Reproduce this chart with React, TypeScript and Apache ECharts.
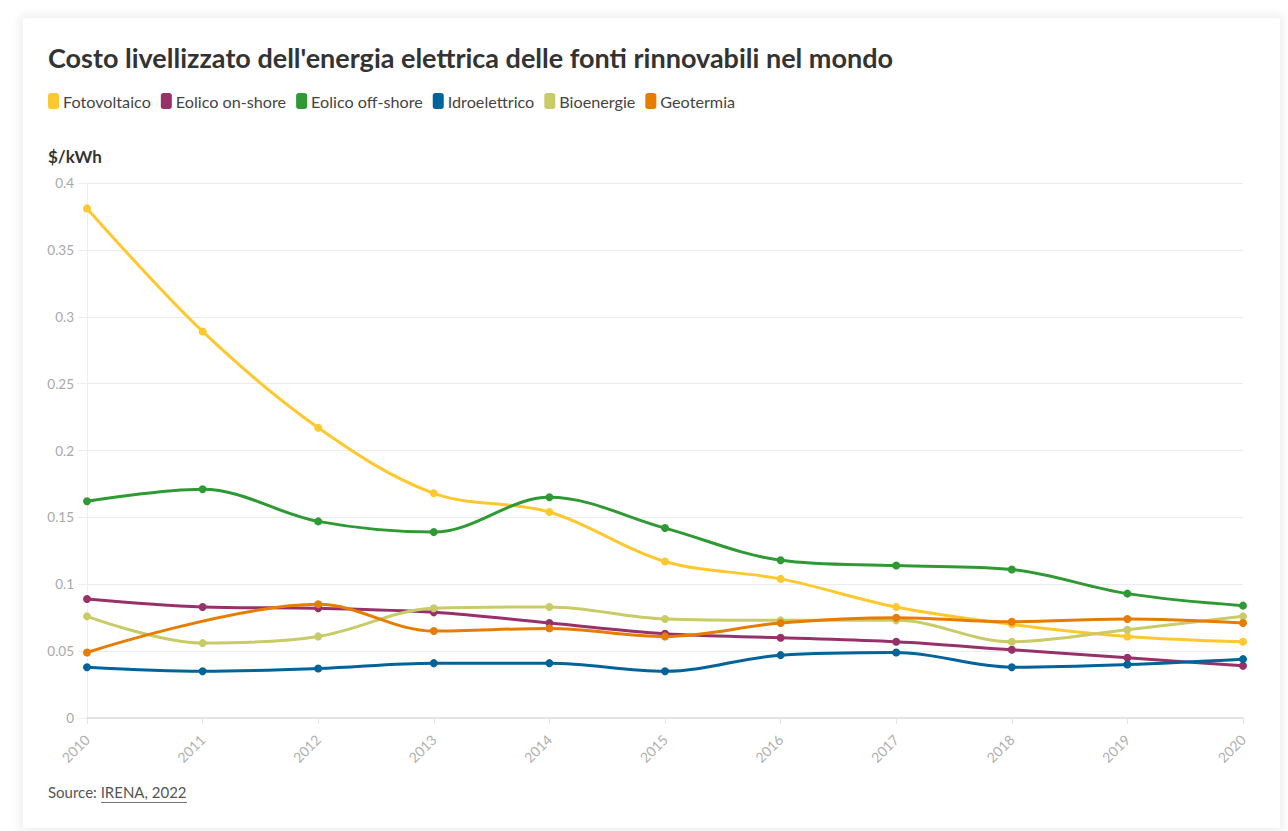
import React, { useEffect, useRef } from "react";
import * as echarts from "echarts";

const years = ["2010", "2011", "2012", "2013", "2014", "2015", "2016", "2017", "2018", "2019", "2020"];
const fotovoltaico = [0.381, 0.289, 0.217, 0.168, 0.154, 0.117, 0.104, 0.083, 0.07, 0.061, 0.057];
const eolicoOnShore = [0.089, 0.083, 0.082, 0.079, 0.071, 0.063, 0.06, 0.057, 0.051, 0.045, 0.039];
const eolicoOffShore = [0.162, 0.171, 0.147, 0.139, 0.165, 0.142, 0.118, 0.114, 0.111, 0.093, 0.084];
const idroelettrico = [0.038, 0.035, 0.037, 0.041, 0.041, 0.035, 0.047, 0.049, 0.038, 0.04, 0.044];
const bioenergie = [0.076, 0.056, 0.061, 0.082, 0.083, 0.074, 0.073, 0.073, 0.057, 0.066, 0.076];
const geotermia = [0.049, null, 0.085, 0.065, 0.067, 0.061, 0.071, 0.075, 0.072, 0.074, 0.071];

const seriesNames = ["Fotovoltaico", "Eolico on-shore", "Eolico off-shore", "Idroelettrico", "Bioenergie", "Geotermia"];
const seriesData = [fotovoltaico, eolicoOnShore, eolicoOffShore, idroelettrico, bioenergie, geotermia];
const seriesColors = ["#fec82e", "#98316a", "#2f9a33", "#00639a", "#c9cb67", "#e67c00"];

const FONT = "'Source Sans Pro', Lato, 'Noto Sans', sans-serif";

export default function App() {
  const ref = useRef<HTMLDivElement>(null);

  useEffect(() => {
    if (!ref.current) return;
    const chart = echarts.init(ref.current, null, { renderer: "svg" });
    chart.setOption({
      animation: false,
      textStyle: { fontFamily: FONT },
      title: {
        text: "Costo livellizzato dell'energia elettrica delle fonti rinnovabili nel mondo",
        left: 20,
        top: 21,
        textStyle: { fontFamily: FONT, fontSize: 27, fontWeight: "bold", color: "#333333" },
      },
      legend: {
        left: 25,
        top: 75,
        icon: "roundRect",
        itemWidth: 11,
        itemHeight: 16,
        itemGap: 10,
        padding: 0,
        textStyle: { fontFamily: FONT, fontSize: 16.2, color: "#444444", padding: [0, 0, 0, -1] },
        data: seriesNames,
      },
      grid: { left: 64, right: 37, top: 165, bottom: 110, containLabel: false },
      xAxis: {
        type: "category",
        data: years,
        boundaryGap: false,
        axisLine: { lineStyle: { color: "#e4e4e4", width: 2 } },
        axisTick: { show: true, alignWithLabel: true, length: 6, lineStyle: { color: "#e4e4e4", width: 1 } },
        axisLabel: { color: "#b0b0b0", fontSize: 14, rotate: 45, margin: 19, fontFamily: FONT },
      },
      yAxis: {
        type: "value",
        min: 0,
        max: 0.4,
        interval: 0.05,
        name: "$/kWh",
        nameLocation: "end",
        nameGap: 18,
        nameTextStyle: { fontFamily: FONT, fontSize: 17, fontWeight: "bold", color: "#333333", align: "left", padding: [0, 0, 0, -39] },
        axisLine: { show: true, lineStyle: { color: "#eeeeee", width: 1 } },
        axisTick: { show: true, length: 9, lineStyle: { color: "#eeeeee", width: 1 } },
        axisLabel: { color: "#a8a8a8", fontSize: 13.5, margin: 13, fontFamily: FONT },
        splitLine: { lineStyle: { color: "#ececec", width: 1 } },
      },
      series: seriesNames.map((name, i) => ({
        name,
        type: "line",
        data: seriesData[i],
        connectNulls: true,
        smooth: 0.35,
        symbol: "circle",
        symbolSize: 8,
        showSymbol: true,
        lineStyle: { width: 3, color: seriesColors[i] },
        itemStyle: { color: seriesColors[i] },
        emphasis: { disabled: true },
      })),
      graphic: [
        {
          type: "text",
          left: 25,
          top: 766,
          style: {
            text: "Source: IRENA, 2022",
            fontFamily: FONT,
            fontSize: 15,
            fill: "#555555",
          },
        },
        {
          type: "line",
          shape: { x1: 78, y1: 784.5, x2: 164, y2: 784.5 },
          style: { stroke: "#777777", lineWidth: 1 },
        },
      ],
    });
    return () => chart.dispose();
  }, []);

  return (
    <div style={{ position: "fixed", left: 0, top: 0, width: 1288, height: 831, background: "#ffffff", overflow: "hidden" }}>
      <div
        style={{
          position: "absolute",
          left: 23,
          top: 18,
          width: 1257,
          height: 810,
          background: "#ffffff",
          boxShadow: "0 0 10px 3px rgba(0,0,0,0.07)",
        }}
      >
        <div ref={ref} style={{ width: 1257, height: 810 }} />
      </div>
    </div>
  );
}
